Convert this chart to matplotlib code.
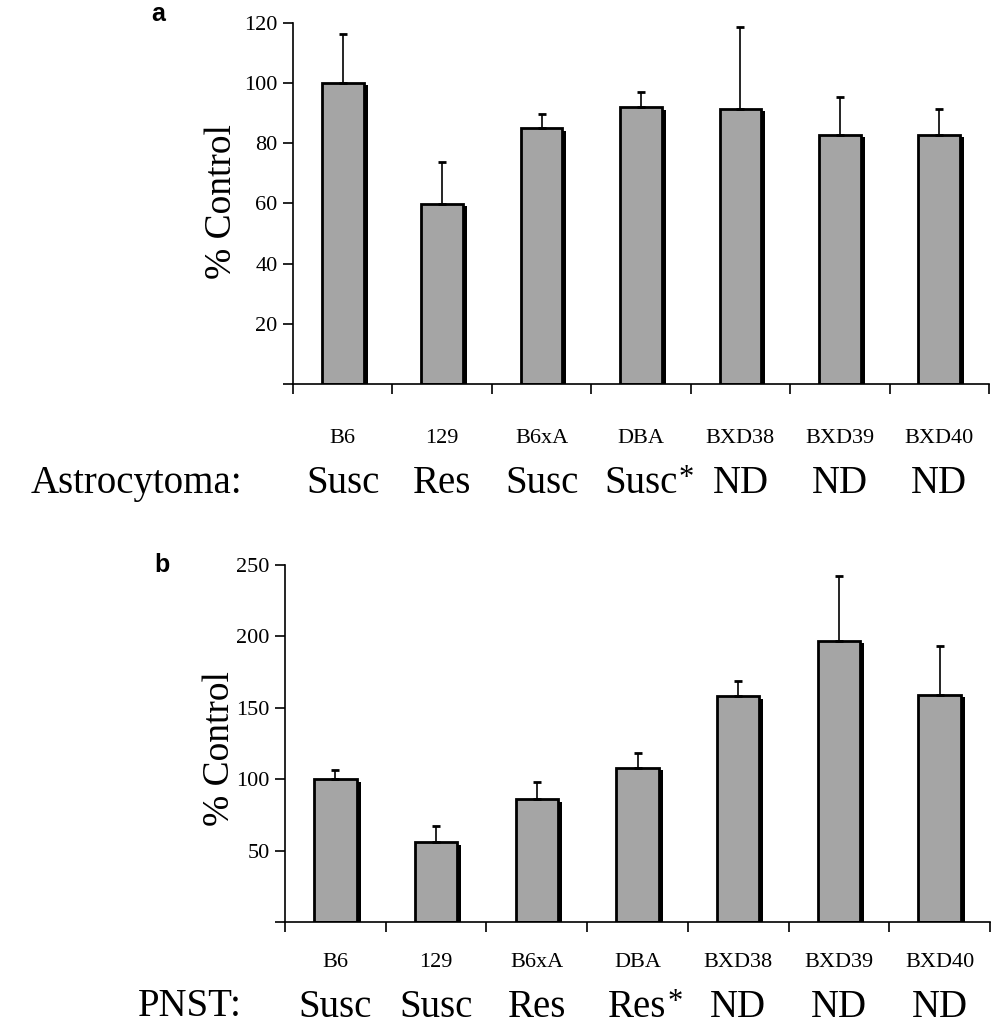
import matplotlib
matplotlib.use("Agg")
import matplotlib.pyplot as plt
import matplotlib.transforms as mtransforms
import numpy as np

# strains on the x axis (same for both panels)
strains = ["B6", "129", "B6xA", "DBA", "BXD38", "BXD39", "BXD40"]

# panel a - astrocytoma
astro_vals = [100, 59.8, 85, 92, 91.5, 82.8, 82.8]
astro_err = [16.1, 13.9, 4.6, 5.1, 27, 12.5, 8.5]
astro_status = ["Susc", "Res", "Susc", "Susc*", "ND", "ND", "ND"]

# panel b - PNST
pnst_vals = [100, 56, 86, 108, 158, 197, 159]
pnst_err = [6.6, 11.5, 11.8, 10, 11, 45, 34.5]
pnst_status = ["Susc", "Susc", "Res", "Res*", "ND", "ND", "ND"]

serif = "Liberation Serif"
plt.rcParams['font.family'] = [serif, 'DejaVu Serif']

W, H = 991, 1028
fig = plt.figure(figsize=(W / 100, H / 100), dpi=100)
stars = []  # status texts that need a trailing asterisk


def draw_panel(ax, vals, err, ymax, step, status, lab_y, row_y, ylab_pos):
    x = np.arange(len(strains))
    vals = np.array(vals, dtype=float)
    # black "shadow" on the right side of every bar
    ax.bar(x + 0.04, vals - 0.007 * ymax, width=0.42, color="black", zorder=1)
    ax.bar(x, vals, width=0.42, color="#a5a5a5", edgecolor="black",
           linewidth=2.0, zorder=2)
    ax.errorbar(x, vals, yerr=[np.zeros(len(vals)), err], fmt="none",
                ecolor="black", elinewidth=1.2, capsize=3, capthick=2, zorder=3)

    ax.set_xlim(-0.5, len(strains) - 0.5)
    ax.set_ylim(0, ymax)
    yt = np.arange(0, ymax + 1, step)
    ax.set_yticks(yt)
    ax.set_yticklabels([""] + [str(int(v)) for v in yt[1:]], fontsize=16)
    ax.set_xticks(np.arange(-0.5, len(strains), 1.0))
    ax.set_xticklabels([])
    ax.tick_params(axis="both", direction="out", length=7, width=1.2, pad=4)

    for s in ["top", "right"]:
        ax.spines[s].set_visible(False)
    for s in ["left", "bottom"]:
        ax.spines[s].set_linewidth(1.2)

    ax.set_ylabel("% Control", fontsize=27)
    ax.yaxis.set_label_coords(ylab_pos[0], ylab_pos[1])

    trans = mtransforms.blended_transform_factory(ax.transData, ax.transAxes)
    for i, name in enumerate(strains):
        ax.text(i, lab_y, name, transform=trans, ha="center", va="baseline",
                fontsize=16, clip_on=False)
    for i, st in enumerate(status):
        t = ax.text(i, row_y, st.rstrip("*"), transform=trans, ha="center",
                    va="baseline", fontsize=28, clip_on=False)
        if st.endswith("*"):
            stars.append(t)


ax1 = fig.add_axes([293 / W, 1 - 384 / H, 696 / W, 361.3 / H])
draw_panel(ax1, astro_vals, astro_err, 120, 20, astro_status,
           -0.163, -0.302, (-0.078, 0.506))

ax2 = fig.add_axes([285 / W, 1 - 922 / H, 705 / W, 357 / H])
draw_panel(ax2, pnst_vals, pnst_err, 250, 50, pnst_status,
           -0.126, -0.265, (-0.068, 0.487))

fig.text(242 / W, 1 - 493 / H, "Astrocytoma:", ha="right", va="baseline",
         fontsize=28)
fig.text(242 / W, 1 - 1016.5 / H, "PNST:", ha="right", va="baseline",
         fontsize=28)

# small raised asterisk right after "Susc" / "Res"
fig.canvas.draw()
inv = fig.transFigure.inverted()
for t in stars:
    bb = t.get_window_extent()
    xb, yb = t.get_transform().transform(t.get_position())
    x0, y0 = inv.transform((bb.x1 + 1, yb + 7))
    fig.text(x0, y0, "*", ha="left", va="baseline", fontsize=22)

fig.text(151 / W, 1 - 21 / H, "a", ha="left", va="baseline", fontsize=18,
         fontweight="bold", family="Liberation Sans")
fig.text(154 / W, 1 - 572 / H, "b", ha="left", va="baseline", fontsize=18,
         fontweight="bold", family="Liberation Sans")

fig.savefig("out.png", dpi=100)
